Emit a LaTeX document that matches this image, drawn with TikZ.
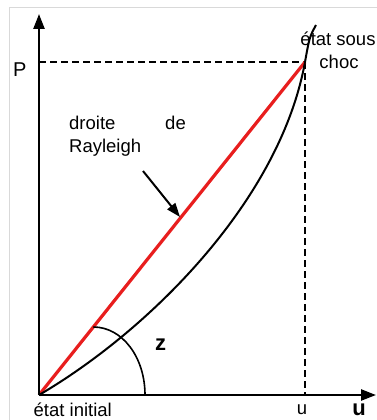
\documentclass[tikz,border=0pt]{standalone}
\usepackage{fontspec}
\setmainfont{Liberation Sans}
\usetikzlibrary{arrows.meta}
\begin{document}
\begin{tikzpicture}[x=1pt,y=-1pt,
  lbl/.style={inner sep=0pt, font=\fontsize{18.5}{22}\selectfont},
  blbl/.style={inner sep=0pt, font=\fontsize{22}{26}\selectfont\bfseries},
  axis/.style={line width=2.4pt, -{Triangle[length=15pt,width=11pt]}},
  guide/.style={line width=1.8pt, dash pattern=on 7pt off 4pt},
  rayleigh/.style={line width=3.2pt, draw={rgb,255:red,232;green,30;blue,30}},
  hugoniot/.style={line width=2pt},
  pointer/.style={line width=2pt, -{Triangle[length=14pt,width=10pt]}},
  anglearc/.style={line width=1.6pt}]
\useasboundingbox (0,0) rectangle (377,420);
\fill[white] (0,0) rectangle (377,420);
\draw[black!15, line width=1pt] (9,420) -- (9,8) -- (377,8);
% key points
\coordinate (O) at (39,395);
\coordinate (S) at (305,62);
\coordinate (Ytop) at (39,14);
\coordinate (Xend) at (376,395);
\coordinate (Pd) at (39,62);
\coordinate (Ud) at (305,395);
\coordinate (Ctop) at (316,25);
\coordinate (ArcA) at (93.3,327);
\coordinate (ArcB) at (145,395);
\coordinate (PtrA) at (143,171);
\coordinate (PtrB) at (180,217);
% dashed guides
\draw[guide] (Pd) -- (S);
\draw[guide] (S) -- (Ud);
% Rayleigh line
\draw[rayleigh] (O) -- (S);
% Hugoniot curve
\draw[hugoniot] (O) .. controls (150,330) and (280,200) .. (S)
  .. controls (309.5,37) .. (Ctop);
% angle arc
\draw[anglearc] (ArcA) .. controls (122.5,327) and (145,357.5) .. (ArcB);
% axes
\draw[axis] (O) -- (Ytop);
\draw[axis] (O) -- (Xend);
% pointer
\draw[pointer] (PtrA) -- (PtrB);
% labels
\node[lbl, anchor=base] (sous) at (338,46) {état sous};
\node[lbl, anchor=base] (choc) at (339,68) {choc};
\node[lbl, anchor=base west, font=\fontsize{20}{24}\selectfont] (P) at (13,77) {P};
\node[lbl, anchor=base west] (droite) at (69,129) {droite};
\node[lbl, anchor=base east] (de) at (186,129) {de};
\node[lbl, anchor=base west] (ray) at (69,152) {Rayleigh};
\node[blbl, anchor=base] (z) at (160.5,350) {z};
\node[lbl, anchor=base west] (init) at (33.5,416) {état initial};
\node[lbl, anchor=base] (u1) at (302,414) {u};
\node[blbl, anchor=base] (u2) at (359,415.5) {u};
\end{tikzpicture}
\end{document}
